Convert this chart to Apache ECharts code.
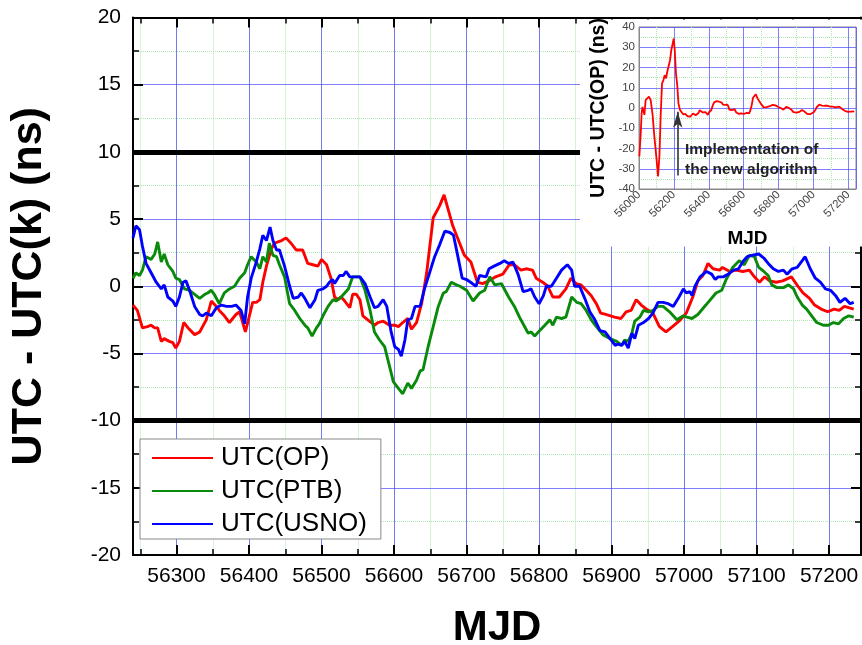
<!DOCTYPE html>
<html>
<head>
<meta charset="utf-8">
<script src="https://cdn.jsdelivr.net/npm/echarts@6/dist/echarts.min.js"></script>
<style>html,body{margin:0;padding:0;background:#fff}#c{width:862px;height:645px}</style>
</head>
<body>
<div id="c"></div>
<script>
// ---- data (MJD, ns) ----
const seriesNames = ['UTC(OP)', 'UTC(PTB)', 'UTC(USNO)'];

const utcOP = [[56240,-1.4],[56246,-1.8],[56253,-3.1],[56260,-3.0],[56265,-2.9],[56270,-3.1],[56274,-3.1],[56279,-4.1],[56283,-3.9],[56290,-4.1],[56295,-4.2],[56299,-4.6],[56304,-4.1],[56310,-2.7],[56316,-3.1],[56325,-3.6],[56332,-3.4],[56341,-2.5],[56348,-1.1],[56355,-1.5],[56359,-1.8],[56366,-2.2],[56373,-2.7],[56382,-2.1],[56387,-1.9],[56395,-3.4],[56401,-2.1],[56405,-1.2],[56410,-1.2],[56415,-1.0],[56419,0.3],[56424,1.5],[56431,2.8],[56435,3.2],[56440,3.3],[56445,3.4],[56451,3.6],[56458,3.2],[56465,2.7],[56474,2.7],[56481,1.7],[56488,1.6],[56495,1.5],[56500,2.0],[56507,1.6],[56513,0.6],[56518,-0.8],[56523,-1.0],[56527,-0.8],[56532,-1.1],[56539,-1.6],[56543,-0.6],[56548,-0.6],[56553,-1.0],[56557,-2.2],[56566,-2.6],[56573,-2.9],[56578,-2.7],[56585,-2.6],[56594,-2.9],[56601,-2.9],[56606,-3.0],[56612,-2.7],[56619,-2.4],[56624,-3.2],[56631,-2.7],[56638,-1.3],[56645,1.0],[56654,5.1],[56663,6.0],[56669,6.8],[56681,4.5],[56697,2.3],[56706,1.8],[56715,0.3],[56722,0.2],[56731,0.4],[56740,0.7],[56750,0.9],[56759,1.6],[56766,1.6],[56775,1.2],[56782,1.3],[56791,1.2],[56796,0.6],[56805,0.3],[56812,0.0],[56819,-0.8],[56828,-0.8],[56837,-0.2],[56844,0.6],[56851,0.2],[56858,0.1],[56865,-0.3],[56872,-0.7],[56879,-1.3],[56885,-2.0],[56892,-2.1],[56904,-2.3],[56913,-2.4],[56920,-1.9],[56927,-1.8],[56934,-1.0],[56941,-1.4],[56948,-1.7],[56957,-2.0],[56966,-3.0],[56975,-3.4],[56984,-3.0],[56993,-2.6],[57003,-2.0],[57012,-0.8],[57019,0.4],[57026,0.8],[57033,1.7],[57040,1.3],[57049,1.2],[57053,1.4],[57063,1.1],[57072,1.2],[57081,1.1],[57090,1.2],[57097,0.7],[57104,0.3],[57111,0.7],[57118,0.4],[57127,0.3],[57136,0.4],[57148,0.7],[57157,0.0],[57164,-0.5],[57173,-0.9],[57180,-1.4],[57189,-1.7],[57198,-1.9],[57207,-1.7],[57214,-1.8],[57221,-1.5],[57234,-1.7]];

const utcPTB = [[56240,0.6],[56244,1.0],[56249,0.8],[56253,1.2],[56258,2.2],[56265,2.0],[56270,2.4],[56274,3.3],[56279,1.8],[56283,2.4],[56288,1.6],[56295,1.1],[56299,0.6],[56304,0.5],[56311,-0.2],[56318,-0.3],[56325,-0.6],[56332,-0.9],[56339,-0.6],[56343,-0.5],[56348,-0.3],[56352,-0.6],[56359,-1.3],[56366,-0.5],[56373,-0.2],[56380,0.0],[56387,0.6],[56394,1.0],[56398,1.6],[56403,2.2],[56410,1.8],[56415,1.3],[56419,2.2],[56424,1.8],[56428,3.2],[56433,2.3],[56438,2.2],[56442,1.6],[56449,0.7],[56456,-1.3],[56463,-1.8],[56470,-2.4],[56477,-2.9],[56481,-3.1],[56487,-3.7],[56493,-3.1],[56497,-2.8],[56502,-2.2],[56509,-1.5],[56516,-1.0],[56520,-1.1],[56527,-0.8],[56532,-0.5],[56537,-0.2],[56543,0.7],[56553,0.7],[56560,-0.3],[56567,-1.8],[56573,-3.4],[56580,-4.0],[56587,-4.5],[56594,-6.0],[56599,-7.1],[56606,-7.6],[56612,-8.0],[56619,-7.2],[56624,-7.6],[56631,-7.0],[56636,-6.3],[56640,-6.2],[56647,-4.5],[56654,-3.0],[56661,-1.5],[56668,-0.5],[56672,-0.4],[56679,0.3],[56686,0.1],[56691,0.0],[56700,-0.3],[56709,-1.1],[56718,-0.5],[56725,-0.3],[56732,0.7],[56739,0.1],[56748,0.2],[56758,-0.8],[56766,-1.5],[56773,-2.3],[56780,-3.0],[56785,-3.5],[56789,-3.4],[56794,-3.7],[56801,-3.3],[56808,-2.9],[56815,-2.5],[56819,-2.9],[56824,-2.3],[56831,-2.4],[56837,-2.3],[56845,-0.8],[56852,-1.2],[56858,-1.3],[56865,-1.8],[56872,-2.5],[56879,-3.0],[56888,-3.6],[56898,-3.9],[56907,-4.1],[56914,-4.4],[56918,-4.0],[56923,-4.1],[56928,-3.5],[56932,-2.6],[56939,-2.3],[56944,-1.8],[56951,-1.9],[56957,-1.8],[56964,-1.5],[56971,-1.5],[56980,-1.9],[56990,-2.5],[56999,-2.2],[57004,-2.3],[57011,-2.4],[57019,-2.1],[57030,-1.4],[57044,-0.5],[57052,-0.3],[57058,0.5],[57067,1.4],[57076,1.9],[57083,1.6],[57090,2.3],[57097,2.2],[57103,1.4],[57110,1.1],[57116,0.8],[57121,0.1],[57128,-0.1],[57137,-0.1],[57144,0.1],[57151,-0.2],[57156,-0.8],[57163,-1.4],[57169,-1.7],[57176,-2.2],[57183,-2.7],[57192,-2.9],[57199,-2.9],[57206,-2.7],[57213,-2.8],[57220,-2.4],[57227,-2.2],[57234,-2.3]];

const utcUSNO = [[56240,3.6],[56244,4.5],[56249,4.2],[56253,3.0],[56258,1.7],[56265,1.0],[56272,0.3],[56279,-0.2],[56283,0.1],[56288,-0.8],[56295,-1.1],[56299,-1.5],[56304,-0.8],[56309,0.3],[56313,0.4],[56318,-0.3],[56325,-1.5],[56332,-2.1],[56336,-2.2],[56341,-2.0],[56348,-2.2],[56355,-1.6],[56362,-1.4],[56369,-1.5],[56376,-1.5],[56382,-1.4],[56389,-1.8],[56394,-2.8],[56398,-0.8],[56403,0.6],[56410,1.8],[56415,2.8],[56419,3.8],[56424,3.4],[56429,4.4],[56433,3.4],[56438,2.7],[56442,2.7],[56449,1.5],[56456,0.0],[56461,-0.9],[56468,-0.8],[56472,-0.5],[56477,-0.9],[56484,-1.6],[56491,-1.0],[56495,-0.3],[56502,-0.2],[56507,0.0],[56511,0.3],[56515,0.5],[56518,0.2],[56525,0.8],[56530,0.8],[56534,1.1],[56539,0.7],[56546,0.7],[56553,0.7],[56560,0.2],[56567,-0.8],[56573,-1.6],[56578,-1.5],[56585,-1.0],[56590,-1.5],[56596,-3.4],[56601,-4.5],[56606,-4.7],[56610,-5.2],[56615,-4.0],[56619,-2.5],[56624,-2.4],[56629,-1.5],[56636,-1.5],[56642,-0.2],[56649,1.0],[56656,2.2],[56663,3.1],[56670,4.1],[56677,4.0],[56682,3.8],[56690,1.7],[56694,0.6],[56700,0.5],[56708,0.2],[56713,0.0],[56718,0.8],[56727,0.7],[56731,1.3],[56738,1.5],[56746,1.7],[56752,1.9],[56758,1.7],[56764,1.8],[56771,0.9],[56778,-0.4],[56785,-0.3],[56789,-0.2],[56794,-0.8],[56800,-1.3],[56806,-0.7],[56810,0.0],[56817,0.0],[56824,0.6],[56831,1.2],[56839,1.6],[56845,1.2],[56849,0.0],[56856,0.0],[56863,-0.9],[56870,-1.9],[56877,-2.5],[56884,-3.3],[56891,-3.4],[56898,-3.9],[56905,-4.4],[56909,-4.3],[56914,-4.4],[56918,-4.1],[56923,-4.6],[56928,-3.5],[56932,-3.9],[56937,-2.9],[56944,-2.7],[56951,-2.4],[56957,-2.0],[56964,-1.2],[56971,-1.2],[56978,-1.3],[56985,-1.5],[56992,-0.9],[56999,-0.2],[57003,-0.5],[57008,-0.4],[57011,-0.7],[57015,0.0],[57022,0.7],[57031,1.1],[57038,0.9],[57043,0.5],[57047,0.7],[57054,0.7],[57061,0.9],[57068,1.2],[57075,1.3],[57082,1.9],[57087,2.2],[57093,2.3],[57103,2.4],[57110,2.1],[57116,1.7],[57123,1.3],[57130,1.1],[57137,1.2],[57142,0.9],[57149,1.3],[57156,1.4],[57163,1.9],[57167,2.2],[57174,1.3],[57181,0.6],[57188,0.3],[57195,-0.2],[57202,-0.3],[57209,-0.7],[57215,-1.2],[57222,-0.9],[57229,-1.3],[57234,-1.2]];

// inset: UTC - UTC(OP) before the new algorithm (then continues with utcOP)
const insetEarlyOP = [[56002,-23.9],[56010,-12.5],[56015,-2.6],[56020,0.5],[56025,-0.2],[56031,-3.4],[56038,3.9],[56048,4.8],[56057,5.6],[56067,3.9],[56078,-3.4],[56088,-14.0],[56101,-25.6],[56109,-33.8],[56117,-23.9],[56124,-4.3],[56132,12.1],[56140,13.8],[56147,16.2],[56155,14.6],[56162,17.9],[56170,17.0],[56178,23.6],[56185,28.5],[56193,31.8],[56199,34.3],[56205,28.5],[56212,17.0],[56220,10.5],[56226,2.3],[56235,-1.0]];
const insetOP = insetEarlyOP.concat(utcOP);

const limits = [10, -10];
const arrowMJD = 56222, arrowFrom = -33.3, arrowTo = -1.8;
const annotation = ['Implementation of', 'the new algorithm'];

const yTicksMain = {min: -20, max: 20, step: 5};
const yTicksInset = {min: -40, max: 40, step: 10};

// ---- styles ----
const FONT = 'Liberation Sans, Arial, sans-serif';
const BLUE_GRID = 'rgba(60,60,255,0.65)';
const GREEN_GRID = '#ade8ad';
const colors = ['#ff0000', '#0a8a0a', '#0000ff'];

const X0 = 56240, X1 = 57244;

function xAxisMain(pos, major, opts) {
  return Object.assign({
    type: 'value', gridIndex: 0, position: pos, min: X0, max: X1,
    splitNumber: major ? 10 : 20,
    axisLine: {show: major, onZero: false, lineStyle: {color: '#000', width: 2}},
    axisTick: {show: true, inside: true, length: major ? 10 : 6, lineStyle: {color: '#000', width: major ? 2 : 1.5}},
    axisLabel: {show: false},
    splitLine: {show: false},
    z: major ? 2 : 1
  }, opts || {});
}

const chart = echarts.init(document.getElementById('c'), null, {renderer: 'canvas'});
const option = {
  animation: false,
  backgroundColor: '#fff',
  textStyle: {fontFamily: FONT},
  grid: [
    {left: 133, top: 17.5, width: 728, height: 537.5, containLabel: false, outerBoundsMode: 'none', show: false},
    {left: 639, top: 27, width: 217, height: 162, outerBoundsMode: 'none', show: true, backgroundColor: '#fff', borderColor: '#888', borderWidth: 1, z: 6}
  ],
  xAxis: [
    xAxisMain('bottom', true, {
      name: 'MJD', nameLocation: 'middle', nameGap: 52,
      nameTextStyle: {fontSize: 42, fontWeight: 'bold', color: '#000', fontFamily: FONT},
      axisLabel: {show: true, fontSize: 21, color: '#000', margin: 11, showMinLabel: false, showMaxLabel: false, fontFamily: FONT,
        formatter: v => String(v)},
      splitLine: {show: true, lineStyle: {color: BLUE_GRID, width: 1}}
    }),
    xAxisMain('bottom', false, {splitLine: {show: true, lineStyle: {color: GREEN_GRID, width: 1, type: 'dotted'}}}),
    xAxisMain('top', true),
    xAxisMain('top', false),
    {
      type: 'value', gridIndex: 1, min: 56000, max: X1, interval: 200, position: 'bottom',
      name: 'MJD', nameLocation: 'middle', nameGap: 40,
      nameTextStyle: {fontSize: 19, fontWeight: 'bold', color: '#000', fontFamily: FONT},
      axisLine: {show: true, onZero: false, lineStyle: {color: '#888', width: 1}},
      axisTick: {show: false},
      axisLabel: {fontSize: 11.5, color: '#444', rotate: 45, margin: 4, fontFamily: FONT, showMaxLabel: false,
        formatter: v => (v % 200 === 0 ? String(v) : '')},
      splitLine: {show: true, lineStyle: {color: BLUE_GRID, width: 1}},
      minorTick: {show: false, splitNumber: 2},
      minorSplitLine: {show: true, lineStyle: {color: GREEN_GRID, width: 1, type: 'dotted'}},
      z: 7
    }
  ],
  yAxis: [
    {
      type: 'value', gridIndex: 0, position: 'left',
      min: yTicksMain.min, max: yTicksMain.max, interval: yTicksMain.step,
      name: 'UTC - UTC(k) (ns)', nameLocation: 'middle', nameGap: 82,
      nameTextStyle: {fontSize: 43, fontWeight: 'bold', color: '#000', fontFamily: FONT},
      axisLine: {show: true, onZero: false, lineStyle: {color: '#000', width: 2}},
      axisTick: {show: true, inside: true, length: 10, lineStyle: {color: '#000', width: 2}},
      minorTick: {show: true, splitNumber: 2, length: 6, lineStyle: {color: '#000', width: 1.5}},
      axisLabel: {fontSize: 21, color: '#000', margin: 12, fontFamily: FONT},
      splitLine: {show: true, lineStyle: {color: BLUE_GRID, width: 1}},
      minorSplitLine: {show: true, lineStyle: {color: GREEN_GRID, width: 1, type: 'dotted'}},
      z: 2
    },
    {
      type: 'value', gridIndex: 0, position: 'right',
      min: yTicksMain.min, max: yTicksMain.max, interval: yTicksMain.step,
      axisLine: {show: true, onZero: false, lineStyle: {color: '#000', width: 2}},
      axisTick: {show: true, inside: true, length: 10, lineStyle: {color: '#000', width: 2}},
      minorTick: {show: true, splitNumber: 2, length: 6, lineStyle: {color: '#000', width: 1.5}},
      axisLabel: {show: false},
      splitLine: {show: false},
      z: 2
    },
    {
      type: 'value', gridIndex: 1, min: yTicksInset.min, max: yTicksInset.max, interval: yTicksInset.step,
      name: 'UTC - UTC(OP) (ns)', nameLocation: 'middle', nameGap: 30,
      nameTextStyle: {fontSize: 19.5, fontWeight: 'bold', color: '#000', fontFamily: FONT},
      axisLine: {show: true, onZero: false, lineStyle: {color: '#888', width: 1}},
      axisTick: {show: false},
      axisLabel: {fontSize: 11.5, color: '#444', margin: 4, fontFamily: FONT},
      splitLine: {show: true, lineStyle: {color: BLUE_GRID, width: 1}},
      minorTick: {show: false, splitNumber: 2},
      minorSplitLine: {show: true, lineStyle: {color: GREEN_GRID, width: 1, type: 'dotted'}},
      z: 7
    }
  ],
  legend: {
    data: seriesNames,
    orient: 'vertical', left: 140, top: 439,
    padding: [6, 14, 2, 11],
    itemWidth: 61, itemHeight: 26, itemGap: 7,
    itemStyle: {opacity: 0},
    backgroundColor: '#fff', borderColor: '#888', borderWidth: 1,
    textStyle: {fontSize: 26, color: '#000', fontFamily: FONT, padding: [0, 0, 0, 3]},
    z: 10
  },
  graphic: [
    {type: 'rect', z: 5, silent: true, shape: {x: 580, y: 19.5, width: 290, height: 227}, style: {fill: '#fff'}},
    {type: 'text', z: 20, silent: true, style: {text: annotation[0], x: 685, y: 150, verticalAlign: 'middle', font: 'bold 15.5px ' + FONT, fill: '#222'}},
    {type: 'text', z: 20, silent: true, style: {text: annotation[1], x: 685, y: 170, verticalAlign: 'middle', font: 'bold 15.5px ' + FONT, fill: '#222'}}
  ],
  series: [
    {
      name: seriesNames[0], type: 'line', xAxisIndex: 0, yAxisIndex: 0, data: utcOP,
      symbol: 'none', showSymbol: false, lineStyle: {color: colors[0], width: 2.9}, itemStyle: {color: colors[0]}, z: 3,
      markLine: {
        silent: true, z: 3, symbol: ['none', 'none'], label: {show: false},
        lineStyle: {color: '#000', width: 5, type: 'solid'},
        data: limits.map(v => ({yAxis: v}))
      }
    },
    {name: seriesNames[1], type: 'line', xAxisIndex: 0, yAxisIndex: 0, data: utcPTB,
      symbol: 'none', showSymbol: false, lineStyle: {color: colors[1], width: 2.9}, itemStyle: {color: colors[1]}, z: 3},
    {name: seriesNames[2], type: 'line', xAxisIndex: 0, yAxisIndex: 0, data: utcUSNO,
      symbol: 'none', showSymbol: false, lineStyle: {color: colors[2], width: 2.9}, itemStyle: {color: colors[2]}, z: 3},
    {
      name: 'inset', type: 'line', xAxisIndex: 4, yAxisIndex: 2, data: insetOP,
      symbol: 'none', showSymbol: false, lineStyle: {color: '#ff0000', width: 1.8}, itemStyle: {color: '#ff0000'}, z: 8,
      markLine: {
        silent: true, z: 9, symbol: ['none', 'arrow'], symbolSize: [7, 16], label: {show: false},
        lineStyle: {color: '#333', width: 1.6, type: 'solid'},
        data: [[{coord: [arrowMJD, arrowFrom]}, {coord: [arrowMJD, arrowTo]}]]
      }
    }
  ]
};
chart.setOption(option);
</script>
</body>
</html>
